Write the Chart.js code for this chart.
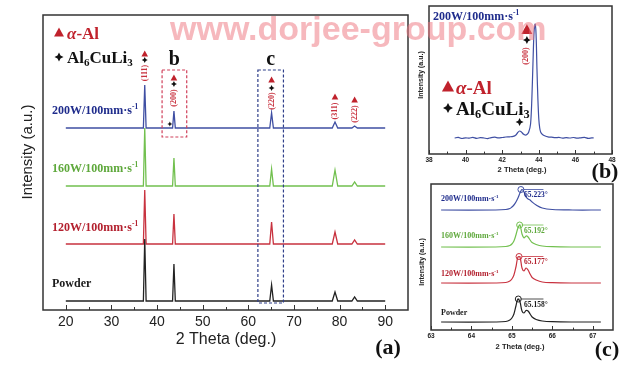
<!DOCTYPE html>
<html>
<head>
<meta charset="utf-8">
<script src="https://cdn.jsdelivr.net/npm/chart.js@4/dist/chart.umd.min.js"></script>
<style>
  body { margin: 0; background: #fff; width: 640px; height: 370px; overflow: hidden; position: relative; }
  canvas { position: absolute; }
  #wm { position: absolute; left: 170px; top: 9px; font: bold 34px "Liberation Sans", Arial, sans-serif;
        color: rgba(238, 118, 128, 0.52); white-space: nowrap; pointer-events: none; z-index: 5; }
</style>
</head>
<body>
<canvas id="chartA" width="412" height="370" style="left:0;top:0"></canvas>
<canvas id="chartB" width="228" height="185" style="left:412px;top:0"></canvas>
<canvas id="chartC" width="228" height="192" style="left:412px;top:178px"></canvas>
<div id="wm">www.dorjee-group.com</div>
<script>
const SANS = '"Liberation Sans", Arial, sans-serif';
const SERIF = '"Liberation Serif", "Times New Roman", serif';

// --- Panel (a) data ---
const ticksA = [20, 30, 40, 50, 60, 70, 80, 90];
const scanA = [20, 90];
const peakAnglesA = [37.3, 43.7, 65.1, 79.0, 83.3];
const peakHalfWidthA = [0.3, 0.3, 0.4, 0.6, 0.6];
const hklA = ["(111)", "(200)", "(220)", "(311)", "(222)"];
const powderPeaks = [62, 37, 16, 9, 4];
const w120Peaks = [54, 30, 22, 12, 4];
const w160Peaks = [58, 28, 17, 16, 4];
const w200Peaks = [43, 17, 15, 6, 2];
const stackA = [9, 66, 124, 182];

// --- Panel (b) data ---
const ticksB = [38, 40, 42, 44, 46, 48];
const bAngles = [39.4, 39.6, 39.8, 40.0, 40.2, 40.4, 40.6, 40.8, 41.0, 41.2, 41.4, 41.6, 41.8, 42.0, 42.2, 42.4,
  42.6, 42.75, 42.85, 42.95, 43.05, 43.15, 43.25, 43.35, 43.45, 43.55, 43.62, 43.68, 43.74, 43.8, 43.85, 43.9,
  43.95, 44.0, 44.05, 44.1, 44.2, 44.35, 44.5, 44.7, 44.9, 45.1, 45.3, 45.5, 45.7, 45.9, 46.1, 46.3, 46.5, 46.7, 46.9, 47.0];
const bCounts = [16, 16.6, 15.5, 16.2, 15.8, 16.7, 15.6, 16.3, 16, 15.4, 16.4, 16.8, 16.1, 16.5, 17, 17.2,
  17.6, 19, 21.5, 23, 22, 20, 19, 19.5, 22, 30, 55, 90, 122, 130, 120, 85,
  55, 35, 26, 22, 19.5, 18, 17.2, 16.8, 16.3, 16.6, 15.9, 16.4, 16, 16.5, 15.8, 16.2, 16.6, 15.6, 16.2, 16];

// --- Panel (c) data ---
const ticksC = [63, 64, 65, 66, 67];
const cAngles = [63.25, 64.6, 64.85, 64.95, 65.0, 65.05, 65.1, 65.15, 65.2, 65.25, 65.3, 65.35, 65.4, 65.45, 65.5, 65.6, 65.75, 66.0, 66.5, 67.2];
const cPowder = [0, 0, 0.5, 2, 4, 8, 16, 23, 20, 11, 9, 11.5, 11, 8, 5, 2.5, 1, 0.3, 0, 0];
const c120 = [0, 0, 0.5, 2, 4, 8, 16, 26, 26, 15, 12, 15, 13, 9, 5.5, 3, 1, 0.3, 0, 0];
const c160 = [0, 0, 0.5, 1.5, 3, 6, 12, 19, 22, 13, 9, 11, 10, 7, 4.5, 2.5, 1, 0.3, 0, 0];
const c200 = [0, 0, 0.5, 1.5, 3, 5, 8, 12, 17, 20.5, 18, 13, 11, 10, 8, 5, 2, 0.5, 0, 0];
const cPeakAngles = [65.158, 65.177, 65.192, 65.223];
const cPeakTops = [23, 26.5, 22, 20.5];
const stackC = [8, 47, 83, 120];
const cPeakLineEnd = 65.78;

const sampleNames = ["Powder", "120W/100mm·s", "160W/100mm·s", "200W/100mm·s"];
const LINE_COLORS = ["#222222", "#c8323f", "#72c04f", "#3f4fa3"];
const TEXT_COLORS = ["#1a1a1a", "#b3202e", "#5ea83b", "#1f2c8c"];
const RED = "#c0222c";

// --- drawing helpers ---
function rich(ctx, parts, x, y, size, color, weight = "bold") {
  // parts: [text, mode]  mode: "", "sub", "sup", "it"
  ctx.fillStyle = color;
  ctx.textBaseline = "alphabetic";
  ctx.textAlign = "left";
  let cx = x;
  parts.forEach(([t, mode]) => {
    let fs = size, dy = 0, style = "";
    if (mode === "sub") { fs = size * 0.65; dy = size * 0.18; }
    if (mode === "sup") { fs = size * 0.62; dy = -size * 0.42; }
    if (mode === "it") style = "italic ";
    ctx.font = `${style}${weight} ${fs}px ${SERIF}`;
    ctx.fillText(t, cx, y + dy);
    cx += ctx.measureText(t).width;
  });
  return cx - x;
}
function tri(ctx, cx, cy, s, color) {
  ctx.fillStyle = color;
  ctx.beginPath();
  ctx.moveTo(cx, cy - s * 0.6);
  ctx.lineTo(cx + s * 0.55, cy + s * 0.4);
  ctx.lineTo(cx - s * 0.55, cy + s * 0.4);
  ctx.closePath();
  ctx.fill();
}
function star(ctx, cx, cy, s, color) {
  const r = s / 2, q = s * 0.17;
  ctx.fillStyle = color;
  ctx.beginPath();
  ctx.moveTo(cx, cy - r);
  ctx.lineTo(cx + q, cy - q);
  ctx.lineTo(cx + r, cy);
  ctx.lineTo(cx + q, cy + q);
  ctx.lineTo(cx, cy + r);
  ctx.lineTo(cx - q, cy + q);
  ctx.lineTo(cx - r, cy);
  ctx.lineTo(cx - q, cy - q);
  ctx.closePath();
  ctx.fill();
}
function vtext(ctx, t, cx, cy, font, color) {
  ctx.save();
  ctx.translate(cx, cy);
  ctx.rotate(-Math.PI / 2);
  ctx.font = font;
  ctx.fillStyle = color;
  ctx.textAlign = "center";
  ctx.textBaseline = "middle";
  ctx.fillText(t, 0, 0);
  ctx.restore();
}
function text(ctx, t, x, y, font, color, align = "center") {
  ctx.font = font;
  ctx.fillStyle = color;
  ctx.textAlign = align;
  ctx.textBaseline = "middle";
  ctx.fillText(t, x, y);
}
function frameAndTicks(ctx, a, xs, from, to, step, major, len, lw) {
  ctx.strokeStyle = "#333";
  ctx.lineWidth = lw;
  ctx.strokeRect(a.left, a.top, a.right - a.left, a.bottom - a.top);
  ctx.lineWidth = 1;
  for (let v = from; v <= to + 1e-9; v += step) {
    const px = Math.round(xs.getPixelForValue(v)) + 0.5;
    const isMajor = Math.abs(v / major - Math.round(v / major)) < 1e-6;
    ctx.beginPath();
    ctx.moveTo(px, a.bottom);
    ctx.lineTo(px, a.bottom - (isMajor ? len : len * 0.6));
    ctx.stroke();
  }
}

function traceA(offset, heights) {
  const pts = [{ x: scanA[0], y: offset }];
  peakAnglesA.forEach((p, i) => {
    const w = peakHalfWidthA[i];
    pts.push({ x: p - w, y: offset }, { x: p, y: offset + heights[i] }, { x: p + w, y: offset });
  });
  pts.push({ x: scanA[1], y: offset });
  return pts;
}

const common = {
  responsive: false,
  animation: false,
  events: [],
  plugins: { legend: { display: false }, tooltip: { enabled: false } },
  elements: { point: { radius: 0 } },
};

// --- Panel (a) ---
const panelA = {
  id: "panelA",
  afterDraw(chart) {
    const { ctx, chartArea: a, scales: { x } } = chart;
    ctx.save();
    frameAndTicks(ctx, a, x, 20, 90, 5, 10, 5, 1.5);
    text(ctx, "2 Theta (deg.)", 226, 340, `16px ${SANS}`, "#222");
    vtext(ctx, "Intensity (a.u.)", 28, 152, `15px ${SANS}`, "#222");
    text(ctx, "(a)", 388, 348, `bold 22px ${SERIF}`, "#111");

    // legend
    tri(ctx, 59, 33, 9, RED);
    rich(ctx, [["α", "it"], ["-Al", ""]], 67, 39, 17, RED);
    star(ctx, 59, 57, 9, "#111");
    rich(ctx, [["Al", ""], ["6", "sub"], ["CuLi", ""], ["3", "sub"]], 67, 63, 17, "#111");

    // sample labels
    const labelY = [287, 231, 172, 114];
    sampleNames.forEach((n, i) => {
      const parts = i === 0 ? [[n, ""]] : [[n, ""], ["-1", "sup"]];
      rich(ctx, parts, 52, labelY[i], 12, TEXT_COLORS[i]);
    });

    // peak markers above the 200W trace
    const triY = [54, 78, 80, 97, 100];
    const starY = [60, 84, 88, null, null];
    const hklY = [73, 98, 101, 111, 114];
    peakAnglesA.forEach((p, i) => {
      const px = x.getPixelForValue(p);
      tri(ctx, px, triY[i], 6, RED);
      if (starY[i]) star(ctx, px, starY[i], 6, "#111");
      vtext(ctx, hklA[i], px, hklY[i], `bold 8px ${SERIF}`, "#c8323f");
    });
    star(ctx, x.getPixelForValue(42.8), 124, 5, "#111");

    // zoom boxes
    ctx.setLineDash([3, 2]);
    ctx.lineWidth = 1.2;
    ctx.strokeStyle = "#d0405a";
    const bx0 = x.getPixelForValue(41.1), bx1 = x.getPixelForValue(46.5);
    ctx.strokeRect(bx0, 70, bx1 - bx0, 67);
    ctx.strokeStyle = "#2f3f8a";
    const cx0 = x.getPixelForValue(62.1), cx1 = x.getPixelForValue(67.7);
    ctx.strokeRect(cx0, 70, cx1 - cx0, 233);
    ctx.setLineDash([]);
    text(ctx, "b", (bx0 + bx1) / 2, 60, `bold 20px ${SERIF}`, "#111");
    text(ctx, "c", (cx0 + cx1) / 2, 60, `bold 20px ${SERIF}`, "#111");
    ctx.restore();
  },
};

new Chart(document.getElementById("chartA"), {
  type: "line",
  data: {
    datasets: [powderPeaks, w120Peaks, w160Peaks, w200Peaks].map((h, i) => ({
      label: sampleNames[i],
      data: traceA(stackA[i], h),
      borderColor: LINE_COLORS[i],
      borderWidth: 1.3,
      tension: 0,
    })),
  },
  options: {
    ...common,
    layout: { padding: { left: 43, top: 15, right: 4, bottom: 40 } },
    scales: {
      x: {
        type: "linear", min: 15, max: 95,
        grid: { display: false, drawTicks: false }, border: { display: false },
        afterBuildTicks: (s) => { s.ticks = ticksA.map((v) => ({ value: v })); },
        afterFit: (s) => { s.height = 20; },
        ticks: { font: { family: SANS, size: 14 }, color: "#222", padding: 4, maxRotation: 0, autoSkip: false },
      },
      y: { display: false, min: 0, max: 295 },
    },
  },
  plugins: [panelA],
});

// --- Panel (b) ---
const panelB = {
  id: "panelB",
  afterDraw(chart) {
    const { ctx, chartArea: a, scales: { x } } = chart;
    ctx.save();
    frameAndTicks(ctx, a, x, 38, 48, 1, 2, 4, 1.5);
    text(ctx, "2 Theta (deg.)", 110, 170, `bold 7.5px ${SANS}`, "#222");
    vtext(ctx, "Intensity (a.u.)", 9, 75, `bold 7px ${SANS}`, "#222");
    text(ctx, "(b)", 193, 172, `bold 22px ${SERIF}`, "#111");
    rich(ctx, [["200W/100mm·s", ""], ["-1", "sup"]], 21, 20, 12, TEXT_COLORS[3]);
    const px = x.getPixelForValue(43.35);
    tri(ctx, px, 30, 10, RED);
    star(ctx, px, 40, 8, "#111");
    vtext(ctx, "(200)", px - 1, 56, `bold 8px ${SERIF}`, "#c8323f");
    star(ctx, x.getPixelForValue(42.95), 122, 8, "#111");
    tri(ctx, 36, 87, 11, RED);
    rich(ctx, [["α", "it"], ["-Al", ""]], 44, 94, 19, RED);
    star(ctx, 36, 108, 10, "#111");
    rich(ctx, [["Al", ""], ["6", "sub"], ["CuLi", ""], ["3", "sub"]], 44, 115, 19, "#111");
    ctx.restore();
  },
};

new Chart(document.getElementById("chartB"), {
  type: "line",
  data: {
    datasets: [{
      label: "200W/100mm·s-1",
      data: bAngles.map((a, i) => ({ x: a, y: bCounts[i] })),
      borderColor: "#3f4fa3",
      borderWidth: 1.2,
      tension: 0.3,
    }],
  },
  options: {
    ...common,
    layout: { padding: { left: 17, top: 6, right: 28, bottom: 0 } },
    scales: {
      x: {
        type: "linear", min: 38, max: 48,
        grid: { display: false, drawTicks: false }, border: { display: false },
        afterBuildTicks: (s) => { s.ticks = ticksB.map((v) => ({ value: v })); },
        afterFit: (s) => { s.height = 31; },
        ticks: { font: { family: SANS, size: 6.5, weight: "bold" }, color: "#222", padding: 2, maxRotation: 0, autoSkip: false },
      },
      y: { display: false, min: 0, max: 148 },
    },
  },
  plugins: [panelB],
});

// --- Panel (c) ---
const panelC = {
  id: "panelC",
  afterDraw(chart) {
    const { ctx, chartArea: a, scales: { x, y } } = chart;
    ctx.save();
    frameAndTicks(ctx, a, x, 63, 67, 0.5, 1, 4, 1.5);
    text(ctx, "2 Theta (deg.)", 108, 169, `bold 7.5px ${SANS}`, "#222");
    vtext(ctx, "Intensity (a.u.)", 10, 84, `bold 7px ${SANS}`, "#222");
    text(ctx, "(c)", 195, 172, `bold 22px ${SERIF}`, "#111");
    const labelY = [137, 98, 60, 23];
    sampleNames.forEach((n, i) => {
      const parts = i === 0 ? [[n, ""]] : [[n, ""], ["-1", "sup"]];
      rich(ctx, parts, 29, labelY[i], 8, TEXT_COLORS[i]);
      const top = y.getPixelForValue(stackC[i] + cPeakTops[i]);
      const lx = x.getPixelForValue(65.3);
      ctx.font = `bold 7.5px ${SERIF}`;
      ctx.fillStyle = TEXT_COLORS[i];
      ctx.textAlign = "left";
      ctx.textBaseline = "top";
      ctx.fillText(cPeakAngles[i].toFixed(3) + "°", lx, top + 2);
    });
    ctx.restore();
  },
};

const cSeries = [cPowder, c120, c160, c200];
const cDatasets = [];
cSeries.forEach((vals, i) => {
  cDatasets.push({
    label: sampleNames[i],
    data: cAngles.map((a, k) => ({ x: a, y: stackC[i] + vals[k] })),
    borderColor: LINE_COLORS[i],
    borderWidth: 1.2,
    tension: 0.35,
  });
  cDatasets.push({
    label: sampleNames[i] + " peak",
    data: [{ x: cPeakAngles[i], y: stackC[i] + cPeakTops[i] }, { x: cPeakLineEnd, y: stackC[i] + cPeakTops[i] }],
    borderColor: LINE_COLORS[i],
    borderWidth: 0.8,
    pointRadius: [3, 0],
    pointBorderColor: LINE_COLORS[i],
    pointBackgroundColor: "rgba(255,255,255,0.6)",
    pointBorderWidth: 1,
  });
});

new Chart(document.getElementById("chartC"), {
  type: "line",
  data: { datasets: cDatasets },
  options: {
    ...common,
    layout: { padding: { left: 19, top: 6, right: 27, bottom: 0 } },
    scales: {
      x: {
        type: "linear", min: 63, max: 67.5,
        grid: { display: false, drawTicks: false }, border: { display: false },
        afterBuildTicks: (s) => { s.ticks = ticksC.map((v) => ({ value: v })); },
        afterFit: (s) => { s.height = 40; },
        ticks: { font: { family: SANS, size: 6.5, weight: "bold" }, color: "#222", padding: 2, maxRotation: 0, autoSkip: false },
      },
      y: { display: false, min: 0, max: 146 },
    },
  },
  plugins: [panelC],
});
</script>
</body>
</html>
